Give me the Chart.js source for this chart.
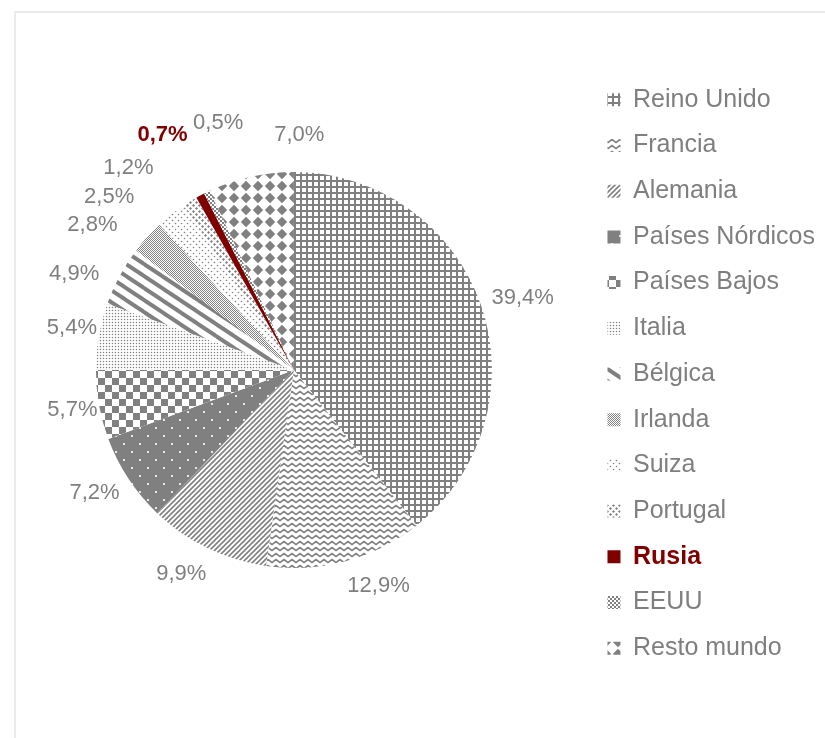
<!DOCTYPE html>
<html>
<head>
<meta charset="utf-8">
<script src="https://cdn.jsdelivr.net/npm/chart.js@4.4.0/dist/chart.umd.min.js"></script>
<style>
  html, body { margin: 0; padding: 0; background: #fff; overflow: hidden; }
  #frame { position: absolute; left: 14px; top: 11px; width: 900px; height: 900px; border: 2px solid #ebebeb; }
  #chart { position: absolute; left: 0; top: 0; }
</style>
</head>
<body>
<div id="frame"></div>
<canvas id="chart" width="825" height="738"></canvas>
<script>
/* ---------- data (share of total, %) ---------- */
const countries = ["Reino Unido", "Francia", "Alemania", "Países Nórdicos", "Países Bajos",
  "Italia", "Bélgica", "Irlanda", "Suiza", "Portugal", "Rusia", "EEUU", "Resto mundo"];
const shares = [39.4, 12.9, 9.9, 7.2, 5.7, 5.4, 4.9, 2.8, 2.5, 1.2, 0.7, 0.5, 7.0];
const highlight = "Rusia";

/* ---------- label placement (Excel spreads the small ones) ---------- */
const labelTurn = [1.6, -6.3, 3, 1.8, 0, 1, -4.6, -6.5, -8.6, -7.7, -1, 9, 13.9]; // degrees
const labelGap  = [42, 34, 35, 36, 27, 28, 42, 50, 55, 63, 71, 60, 37];          // px past the rim

const GREY = "#808080";
const TEXT = "#7f7f7f";
const RED  = "#800000";
const FONT = '"Liberation Sans", Arial, sans-serif';

/* ---------- hatch patterns ---------- */
function tile(w, h, paint) {
  const c = document.createElement("canvas");
  c.width = w; c.height = h;
  const g = c.getContext("2d");
  g.fillStyle = "#fff";
  g.fillRect(0, 0, w, h);
  g.fillStyle = GREY;
  g.strokeStyle = GREY;
  paint(g, w, h);
  return g.createPattern(c, "repeat");
}
function dot(g, x, y, r) { g.beginPath(); g.arc(x, y, r, 0, Math.PI * 2); g.fill(); }
function diamond(g, x, y, s) {
  g.beginPath(); g.moveTo(x, y - s); g.lineTo(x + s, y); g.lineTo(x, y + s); g.lineTo(x - s, y); g.closePath(); g.fill();
}

const fills = [
  // Reino Unido - grid
  tile(6, 6, g => { g.fillRect(0, 0, 6, 2); g.fillRect(0, 0, 2, 6); }),
  // Francia - waves
  tile(8, 6, g => {
    g.lineWidth = 1.7;
    g.beginPath(); g.moveTo(-4, 1.5); g.lineTo(0, 4.5); g.lineTo(4, 1.5); g.lineTo(8, 4.5); g.lineTo(12, 1.5); g.stroke();
  }),
  // Alemania - narrow diagonal
  tile(5, 5, g => {
    g.lineWidth = 1.6;
    [-5, 0, 5].forEach(k => { g.beginPath(); g.moveTo(k - 1, 6); g.lineTo(k + 6, -1); g.stroke(); });
  }),
  // Países Nórdicos - dark with white dots
  tile(16, 16, g => { g.fillRect(0, 0, 16, 16); g.fillStyle = "#fff"; dot(g, 4, 4, 1.1); dot(g, 12, 12, 1.1); }),
  // Países Bajos - checkerboard
  tile(14, 14, g => { g.fillRect(0, 0, 7, 7); g.fillRect(7, 7, 7, 7); }),
  // Italia - fine dots
  tile(3, 3, g => dot(g, 1.5, 1.5, 0.75)),
  // Bélgica - wide diagonal
  tile(18, 12, g => {
    g.lineWidth = 4;
    [-12, 0, 12].forEach(k => { g.beginPath(); g.moveTo(-1, k - 0.67); g.lineTo(19, k + 12.67); g.stroke(); });
  }),
  // Irlanda - 50% fine
  tile(2, 2, g => { g.fillRect(0, 0, 1, 1); g.fillRect(1, 1, 1, 1); }),
  // Suiza - sparse dots
  tile(6, 6, g => { dot(g, 1.5, 1.5, 0.8); dot(g, 4.5, 4.5, 0.8); }),
  // Portugal - small diamonds
  tile(6, 6, g => { diamond(g, 1.5, 1.5, 1.5); diamond(g, 4.5, 4.5, 1.5); }),
  // Rusia - solid
  RED,
  // EEUU - checker
  tile(4, 4, g => { g.fillRect(0, 0, 2, 2); g.fillRect(2, 2, 2, 2); }),
  // Resto mundo - large diamonds
  tile(12, 12, g => diamond(g, 6, 6, 5.2))
];

/* ---------- plugins ---------- */
const pieLabels = {
  id: "pieLabels",
  afterDatasetsDraw(chart) {
    const ctx = chart.ctx;
    const arcs = chart.getDatasetMeta(0).data;
    ctx.save();
    ctx.textAlign = "center";
    ctx.textBaseline = "middle";
    arcs.forEach((arc, i) => {
      const p = arc.getProps(["x", "y", "startAngle", "endAngle", "outerRadius"], true);
      const a = (p.startAngle + p.endAngle) / 2 + labelTurn[i] * Math.PI / 180;
      const r = p.outerRadius + labelGap[i];
      const hl = countries[i] === highlight;
      ctx.font = (hl ? "bold " : "") + "22px " + FONT;
      ctx.fillStyle = hl ? RED : TEXT;
      ctx.fillText(shares[i].toFixed(1).replace(".", ",") + "%", p.x + Math.cos(a) * r, p.y + Math.sin(a) * r);
    });
    ctx.restore();
  }
};

// nudge the legend column down a little, as in the original
const legendShift = {
  id: "legendShift",
  afterLayout(chart) {
    chart.legend.top += 4;
    chart.legend.bottom += 4;
  }
};

// legend text for the highlighted country is bold red
const legendHighlight = {
  id: "legendHighlight",
  afterDraw(chart) {
    const lg = chart.legend;
    const i = countries.indexOf(highlight);
    const box = lg.legendHitBoxes[i];
    if (!box) return;
    const lab = lg.options.labels;
    const size = lab.font.size;
    const ctx = chart.ctx;
    ctx.save();
    ctx.font = "bold " + size + "px " + FONT;
    ctx.fillStyle = RED;
    ctx.textAlign = "left";
    ctx.textBaseline = "middle";
    ctx.fillText(countries[i], box.left + lab.boxWidth + size / 2, box.top + Math.max(size, lab.boxHeight) / 2);
    ctx.restore();
  }
};

/* ---------- chart ---------- */
new Chart(document.getElementById("chart"), {
  type: "pie",
  data: {
    labels: countries,
    datasets: [{
      data: shares,
      backgroundColor: fills,
      borderWidth: 0
    }]
  },
  options: {
    responsive: false,
    animation: false,
    radius: 198,
    layout: { padding: { left: 1, top: 2, right: 0, bottom: 0 } },
    plugins: {
      tooltip: { enabled: false },
      legend: {
        position: "right",
        align: "center",
        labels: {
          boxWidth: 13,
          boxHeight: 13,
          padding: 20.7,
          color: TEXT,
          font: { family: FONT, size: 25 },
          generateLabels(chart) {
            const items = Chart.overrides.pie.plugins.legend.labels.generateLabels(chart);
            items.forEach(it => {
              it.lineWidth = 0;
              if (countries[it.index] === highlight) it.fontColor = "rgba(0,0,0,0)";
            });
            return items;
          }
        }
      }
    }
  },
  plugins: [pieLabels, legendShift, legendHighlight]
});
</script>
</body>
</html>
